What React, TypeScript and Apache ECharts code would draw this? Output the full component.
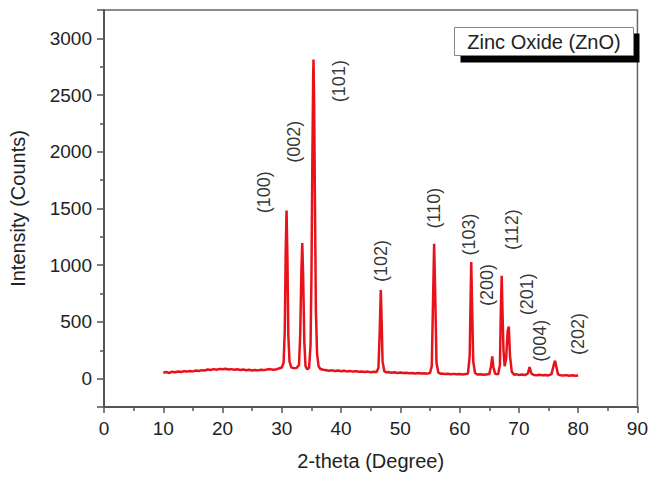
import React, { useEffect, useRef } from "react";
import * as echarts from "echarts";

const twoTheta = [
  10.0, 10.5, 11.0, 11.5, 12.0, 12.5, 13.0, 13.5, 14.0, 14.5, 15.0, 15.5, 16.0, 16.5, 17.0, 17.5,
  18.0, 18.5, 19.0, 19.5, 20.0, 20.5, 21.0, 21.5, 22.0, 22.5, 23.0, 23.5, 24.0, 24.5, 25.0, 25.5,
  26.0, 26.5, 27.0, 27.5, 28.0, 28.5, 29.0, 29.5, 30.0, 30.3, 30.5, 30.65, 30.8, 30.95, 31.1, 31.3,
  31.6, 32.0, 32.5, 32.9, 33.1, 33.3, 33.45, 33.6, 33.8, 34.0, 34.3, 34.6, 34.85, 35.0, 35.15, 35.3,
  35.35, 35.45, 35.6, 35.75, 35.95, 36.2, 36.5, 37.0, 37.5, 38.0, 38.5, 39.0, 39.5, 40.0, 40.5, 41.0,
  41.5, 42.0, 42.5, 43.0, 43.5, 44.0, 44.5, 45.0, 45.5, 46.0, 46.3, 46.5, 46.7, 46.85, 47.0, 47.3,
  47.7, 48.0, 48.5, 49.0, 49.5, 50.0, 50.5, 51.0, 51.5, 52.0, 52.5, 53.0, 53.5, 54.0, 54.5, 55.0,
  55.3, 55.5, 55.7, 55.9, 56.1, 56.4, 56.8, 57.0, 57.5, 58.0, 58.5, 59.0, 59.5, 60.0, 60.5, 61.0,
  61.4, 61.7, 61.85, 61.96, 62.1, 62.3, 62.6, 63.0, 63.5, 64.0, 64.5, 65.0, 65.3, 65.5, 65.7, 66.0,
  66.5, 66.8, 66.95, 67.1, 67.25, 67.4, 67.6, 67.85, 68.1, 68.3, 68.5, 68.8, 69.2, 69.6, 70.0, 70.5,
  71.0, 71.5, 71.8, 72.1, 72.5, 73.0, 73.5, 74.0, 74.5, 75.0, 75.5, 75.9, 76.1, 76.3, 76.6, 77.0,
  77.5, 78.0, 78.5, 79.0, 79.5, 80.0,
];

const intensity = [
  52, 58, 50, 61, 56, 63, 58, 66, 62, 68, 64, 72, 68, 75, 72, 80,
  76, 84, 79, 86, 82, 87, 80, 84, 78, 82, 76, 80, 74, 78, 72, 77,
  73, 79, 75, 81, 84, 78, 80, 90, 98, 140, 420, 1100, 1482, 1050, 380, 150,
  100, 92, 95, 120, 380, 950, 1196, 900, 320, 110, 82, 95, 300, 900, 1900, 2700,
  2813, 2450, 1500, 600, 220, 110, 85, 78, 74, 70, 73, 68, 71, 66, 69, 64,
  67, 62, 66, 60, 63, 58, 62, 57, 60, 58, 95, 380, 781, 500, 150, 65,
  55, 58, 52, 56, 50, 54, 49, 52, 47, 50, 46, 49, 45, 48, 44, 50,
  110, 650, 1190, 700, 140, 55, 42, 45, 40, 44, 39, 42, 38, 41, 37, 40,
  44, 200, 700, 1029, 650, 150, 50, 36, 38, 34, 37, 40, 110, 196, 100, 42,
  38, 120, 600, 906, 560, 250, 110, 180, 420, 459, 200, 60, 35, 38, 33, 36,
  32, 45, 102, 45, 33, 30, 34, 29, 32, 28, 40, 125, 158, 110, 38, 30,
  27, 31, 26, 29, 25, 28,
];

const peakLabels = ["(100)", "(002)", "(101)", "(102)", "(110)", "(103)", "(200)", "(112)", "(201)", "(004)", "(202)"];
const peakLabelX = [27.0, 32.1, 39.7, 46.7, 55.6, 61.5, 64.6, 68.8, 71.3, 73.6, 80.0];
const peakLabelY = [1643, 2089, 2623, 1037, 1504, 1270, 825, 1314, 744, 335, 393];

const xTitle = "2-theta (Degree)";
const yTitle = "Intensity (Counts)";
const legendText = "Zinc Oxide (ZnO)";

const FONT = "'Liberation Sans', Arial, sans-serif";

export default function App() {
  const ref = useRef<HTMLDivElement>(null);
  useEffect(() => {
    if (!ref.current) return;
    const chart = echarts.init(ref.current, null, { renderer: "svg" });
    const lineData = twoTheta.map((x, i) => [x, intensity[i]]);
    const labelData = peakLabels.map((n, i) => ({ name: n, value: [peakLabelX[i], peakLabelY[i]] }));
    chart.setOption({
      animation: false,
      backgroundColor: "#ffffff",
      grid: {
        left: 104,
        right: 12,
        top: 10,
        bottom: 70,
        show: true,
        borderColor: "#666",
        borderWidth: 1.5,
        backgroundColor: "transparent",
      },
      xAxis: {
        type: "value",
        min: 0,
        max: 90,
        interval: 10,
        name: xTitle,
        nameLocation: "middle",
        nameGap: 44,
        nameTextStyle: { fontFamily: FONT, fontSize: 20, color: "#222" },
        axisLine: { onZero: false, lineStyle: { color: "#555", width: 2 } },
        axisTick: { show: true, length: 6, lineStyle: { color: "#555", width: 1.5 } },
        minorTick: { show: true, splitNumber: 2, length: 4, lineStyle: { color: "#555", width: 1.5 } },
        axisLabel: { fontFamily: FONT, fontSize: 19, color: "#222", margin: 12 },
        splitLine: { show: false },
      },
      yAxis: {
        type: "value",
        min: -250,
        max: 3250,
        splitNumber: 7,
        minInterval: 500,
        maxInterval: 500,
        name: yTitle,
        nameLocation: "middle",
        nameGap: 76,
        nameTextStyle: { fontFamily: FONT, fontSize: 20, color: "#222" },
        axisLine: { onZero: false, lineStyle: { color: "#555", width: 2 } },
        axisTick: { show: true, length: 7, lineStyle: { color: "#555", width: 1.5 } },
        minorTick: { show: true, splitNumber: 2, length: 4, lineStyle: { color: "#555", width: 1.5 } },
        axisLabel: {
          fontFamily: FONT,
          fontSize: 19,
          color: "#222",
          margin: 12,
          formatter: (v: number) => (v % 500 === 0 ? String(v) : ""),
        },
        splitLine: { show: false },
      },
      series: [
        {
          type: "line",
          data: lineData,
          showSymbol: false,
          symbol: "none",
          lineStyle: { color: "#e8121b", width: 2.5 },
          z: 3,
        },
        {
          type: "scatter",
          data: labelData,
          symbolSize: 0,
          itemStyle: { color: "transparent" },
          label: {
            show: true,
            position: "inside",
            rotate: 90,
            formatter: "{b}",
            fontFamily: FONT,
            fontSize: 18,
            color: "#000",
          },
          z: 4,
        },
      ],
      graphic: [
        {
          type: "group",
          left: 454,
          top: 27,
          children: [
            { type: "rect", shape: { x: 6, y: 6, width: 179, height: 29 }, style: { fill: "#000" } },
            { type: "rect", shape: { x: 0, y: 0, width: 179, height: 28 }, style: { fill: "#fff", stroke: "#888", lineWidth: 1 } },
            {
              type: "text",
              x: 89.5,
              y: 14,
              style: {
                text: legendText,
                fontFamily: FONT,
                fontSize: 20,
                fill: "#222",
                align: "center",
                verticalAlign: "middle",
              },
            },
          ],
        },
      ],
    });
    return () => chart.dispose();
  }, []);
  return <div ref={ref} style={{ position: "fixed", left: 0, top: 0, width: 651, height: 477 }} />;
}
